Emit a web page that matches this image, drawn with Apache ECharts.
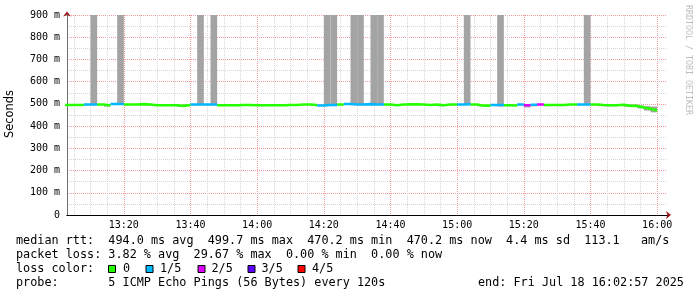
<!DOCTYPE html>
<html><head><meta charset="utf-8">
<script src="https://cdn.jsdelivr.net/npm/echarts@6/dist/echarts.min.js"></script>
<style>html,body{margin:0;padding:0;background:#fff}#c{width:697px;height:297px}</style>
</head><body><div id="c"></div>
<script>
// time in minutes after 13:00; one step = 2 minutes (120 s)
const startMin = 2;
const stepMin = 2;
const axisStart = 2.95;   // 13:02:57
const axisEnd = 182.95;   // 16:02:57

const medians = [
  495,495,495,497,497,497,493,499.7,499.5,497,
  497,499,497,494,494,494,494,491,495,497,
  497,497,497,494,494,494,495,495,494,494,
  494,494,494,495,495,497,497,495,493,495,
  495,497,499.5,497,497,499,497,497,497,494,
  497,498,498,497,495,497,494,497,497,497,
  499,497,492,492,495,495,494,493,497,494,
  496,497,495,495,495,497,497,497,497,497,
  495,494,494,496,491,491,484,478,470.2
];
const lossCounts = [
  0,0,0,1,1,0,0,1,1,0,
  0,0,0,0,0,0,0,0,0,1,
  1,1,1,0,0,0,0,0,0,0,
  0,0,0,0,0,0,0,0,1,1,
  1,0,1,1,1,1,1,1,0,0,
  0,0,0,0,0,0,0,0,0,1,
  1,0,0,0,1,1,0,0,1,2,
  1,2,0,0,0,0,0,1,1,0,
  0,0,0,0,0,0,0,0,0
];
const smokeHigh = [
  498,498,498,499,900,499,496,501,900,499,
  499,501,499,497,497,497,497,494,497,499,
  900,499,900,497,497,497,498,498,499,499,
  499,499,499,498,498,499,499,497,496,900,
  900,499,501,900,900,501,900,900,499,497,
  499,500,500,499,497,499,497,499,499,499,
  900,499,495,495,497,900,496,495,499,497,
  498,499,497,497,497,499,499,499,900,499,
  497,496,496,498,497,497,493,490,488
];
const smokeLow = [
  492,492,492,494,494,494,488,496,496,494,
  494,496,494,491,491,491,491,486,492,494,
  494,494,494,491,491,491,492,492,491,491,
  491,491,491,492,492,494,494,490,490,492,
  492,494,496,494,494,496,494,494,494,491,
  494,495,495,494,492,494,489,494,494,494,
  496,494,489,489,492,488,491,490,494,484,
  489,494,490,492,490,494,494,494,494,494,
  490,489,489,493,487,487,480,470,462
];

const xMinorTicks = [5,10,15,25,30,35,45,50,55,65,70,75,85,90,95,105,110,115,125,130,135,145,150,155,165,170,175];
const xMajorTicks = [20,40,60,80,100,120,140,160,180];
const xMajorLabels = ['13:20','13:40','14:00','14:20','14:40','15:00','15:20','15:40','16:00'];
const yMinorTicks = [50,150,250,350,450,550,650,750,850];
const yMajorTicks = [0,100,200,300,400,500,600,700,800,900];
const yMajorLabels = ['0','100 m','200 m','300 m','400 m','500 m','600 m','700 m','800 m','900 m'];

const lossColors = ['#26ff00','#00b8ff','#dd00ff','#5e00ff','#ff0000'];
const lossLabels = ['0','1/5','2/5','3/5','4/5'];

const statLines = [
  'median rtt:  494.0 ms avg  499.7 ms max  470.2 ms min  470.2 ms now  4.4 ms sd  113.1   am/s',
  'packet loss: 3.82 % avg  29.67 % max  0.00 % min  0.00 % now',
  'loss color:',
  'probe:       5 ICMP Echo Pings (56 Bytes) every 120s'
];
const endText = 'end: Fri Jul 18 16:02:57 2025';

const smokeData = medians.map((m, k) => [startMin + stepMin*k, startMin + stepMin*(k+1), smokeLow[k], smokeHigh[k]]);

function medianData(level) {
  const d = []; let prev = false;
  for (let k = 0; k < medians.length; k++) {
    const t0 = startMin + stepMin*k;
    if (lossCounts[k] === level) {
      d.push([t0, medians[k]], [t0 + stepMin, medians[k]]);
      prev = true;
    } else if (prev) {
      d.push([t0 + stepMin/2, '-']);
      prev = false;
    }
  }
  return d;
}

const mono = '"DejaVu Sans Mono", monospace';
const MINOR = '#d6d6d6', MAJOR = '#f09a9a', ARROW = '#9b1b1b';

const chart = echarts.init(document.getElementById('c'), null, {renderer: 'canvas'});

const series = [{
  type: 'custom', name: 'smoke', clip: true, z: 3,
  data: smokeData,
  encode: {x: [0, 1], y: [2, 3]},
  renderItem: function (params, api) {
    const a = api.coord([api.value(0), api.value(3)]);
    const b = api.coord([api.value(1), api.value(2)]);
    return {type: 'rect', shape: {x: a[0], y: a[1], width: b[0]-a[0], height: b[1]-a[1]},
            style: {fill: '#a4a4a4'}};
  }
}];
lossColors.forEach((c, i) => {
  series.push({
    type: 'line', name: lossLabels[i], data: medianData(i), z: 4,
    showSymbol: false, symbol: 'none', connectNulls: false, clip: true,
    lineStyle: {color: c, width: 2.6, cap: 'butt', join: 'miter'},
    animation: false
  });
});

const graphics = [
  {type: 'text', x: 10.5, y: 114, rotation: Math.PI/2,
   style: {text: 'Seconds', font: '11.4px "DejaVu Sans"', fill: '#000', align: 'center', verticalAlign: 'middle'}},
  {type: 'text', x: 688, y: 5, rotation: -Math.PI/2,
   style: {text: 'RRDTOOL / TOBI OETIKER', font: '8.3px ' + mono, fill: '#bdbdbd', align: 'left', verticalAlign: 'middle'}},
];
const lineY = [241, 255, 269, 282.5];
statLines.forEach((s, i) => {
  graphics.push({type: 'text', x: 16, y: lineY[i],
    style: {text: s, font: '11.8px ' + mono, fill: '#000', align: 'left', verticalAlign: 'middle'}});
});
graphics.push({type: 'text', x: 478, y: lineY[3],
  style: {text: endText, font: '11.8px ' + mono, fill: '#000', align: 'left', verticalAlign: 'middle'}});
const sqX = [108.5, 146, 198, 248, 298];
const lblX = [123, 160, 211.5, 261.5, 312];
lossColors.forEach((c, i) => {
  graphics.push({type: 'rect', shape: {x: sqX[i], y: 265.5, width: 7, height: 7},
    style: {fill: c, stroke: '#000', lineWidth: 1}});
  graphics.push({type: 'text', x: lblX[i], y: lineY[2],
    style: {text: lossLabels[i], font: '11.8px ' + mono, fill: '#000', align: 'left', verticalAlign: 'middle'}});
});

chart.setOption({
  animation: false,
  backgroundColor: '#ffffff',
  grid: {left: 67, top: 15, width: 600, height: 200, containLabel: false},
  xAxis: [{
    type: 'value', min: axisStart, max: axisEnd, z: 1,
    axisLine: {show: true, onZero: false, lineStyle: {color: '#000', width: 1}},
    axisTick: {show: false, customValues: xMinorTicks},
    axisLabel: {show: false},
    splitLine: {show: true, lineStyle: {color: MINOR, width: 1, type: [1, 1]}}
  }, {
    type: 'value', min: axisStart, max: axisEnd, position: 'bottom', z: 0,
    axisLine: {show: true, onZero: false, symbol: ['none', 'arrow'], symbolSize: [6, 5], symbolOffset: [0, 4],
               lineStyle: {color: ARROW, width: 1}},
    axisTick: {show: false, customValues: xMajorTicks},
    axisLabel: {show: true, customValues: xMajorTicks, margin: 5, color: '#000',
                fontFamily: 'DejaVu Sans Mono', fontSize: 10,
                formatter: v => xMajorLabels[xMajorTicks.indexOf(Math.round(v))] || ''},
    splitLine: {show: true, lineStyle: {color: MAJOR, width: 1, type: [1, 1]}}
  }],
  yAxis: [{
    type: 'value', min: 0, max: 900, z: 1,
    axisLine: {show: true, onZero: false, lineStyle: {color: '#6e6e6e', width: 1}},
    axisTick: {show: false, customValues: yMinorTicks},
    axisLabel: {show: false},
    splitLine: {show: true, lineStyle: {color: MINOR, width: 1, type: [1, 1]}}
  }, {
    type: 'value', min: 0, max: 900, position: 'left', z: 0,
    axisLine: {show: true, onZero: false, symbol: ['none', 'arrow'], symbolSize: [6, 5], symbolOffset: [0, 3.5],
               lineStyle: {color: ARROW, width: 1}},
    axisTick: {show: false, customValues: yMajorTicks},
    axisLabel: {show: true, customValues: yMajorTicks, margin: 7, color: '#000',
                fontFamily: 'DejaVu Sans Mono', fontSize: 10,
                formatter: v => yMajorLabels[yMajorTicks.indexOf(Math.round(v))] || ''},
    splitLine: {show: true, lineStyle: {color: MAJOR, width: 1, type: [1, 1]}}
  }],
  series: series,
  graphic: graphics
});
</script></body></html>
